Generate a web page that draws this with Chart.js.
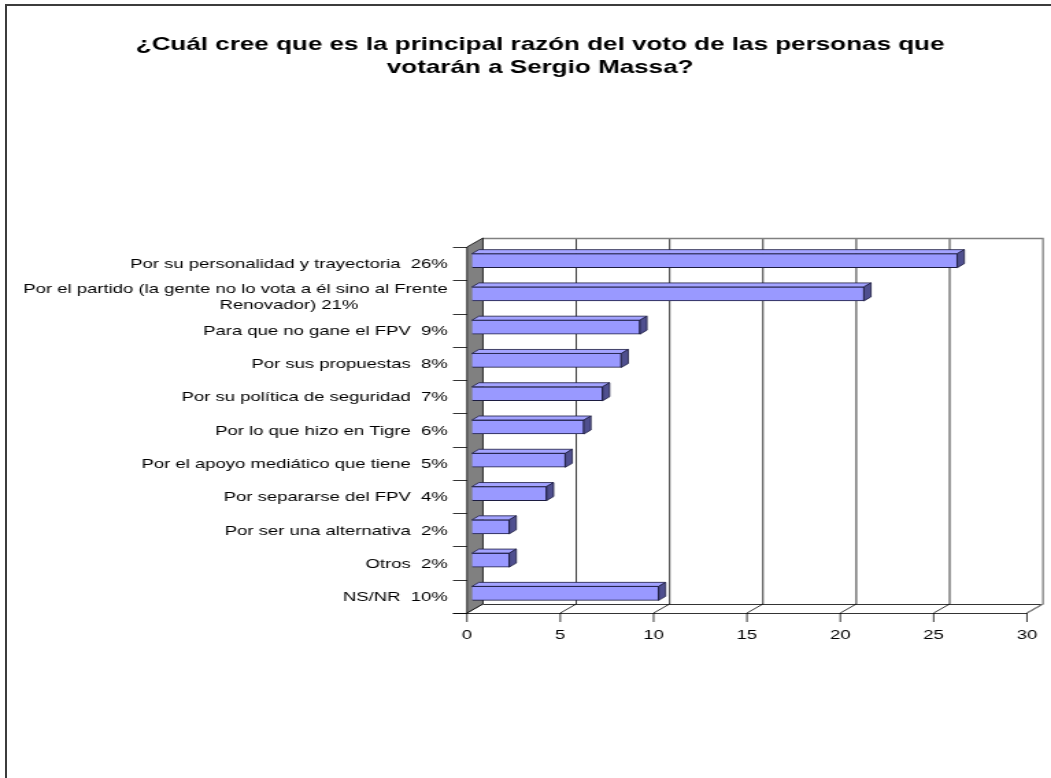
<!DOCTYPE html>
<html>
<head>
<meta charset="utf-8">
<script src="https://cdn.jsdelivr.net/npm/chart.js@4.4.1/dist/chart.umd.min.js"></script>
<style>
  html, body { margin: 0; padding: 0; background: #fff; overflow: hidden; }
  #frame { position: absolute; left: 5px; top: 4px; width: 2000px; height: 2000px;
           border-top: 2px solid #3c3c3c; border-left: 2px solid #3c3c3c; }
  /* the original picture is stretched sideways, so the whole chart is too */
  #wrap { position: absolute; left: 0; top: 0; width: 767px; height: 778px;
          transform: scaleX(1.3703); transform-origin: 0 0; }
</style>
</head>
<body>
<div id="frame"></div>
<div id="wrap"><canvas id="razonChart"></canvas></div>
<script>
// Data
var tituloLineas = ["¿Cuál cree que es la principal razón del voto de las personas que", "votarán a Sergio Massa?"];
var categorias = [
  "Por su personalidad y trayectoria  26%",
  ["Por el partido (la gente no lo vota a él sino al Frente", "Renovador) 21%"],
  "Para que no gane el FPV  9%",
  "Por sus propuestas  8%",
  "Por su política de seguridad  7%",
  "Por lo que hizo en Tigre  6%",
  "Por el apoyo mediático que tiene  5%",
  "Por separarse del FPV  4%",
  "Por ser una alternativa  2%",
  "Otros  2%",
  "NS/NR  10%"
];
var porcentajes = [26, 21, 9, 8, 7, 6, 5, 4, 2, 2, 10];
var ticksX = [0, 5, 10, 15, 20, 25, 30];

// 3D look: offsets of the front and back planes from the bar plane
var FRONT_DX = -3.65, FRONT_DY = 3;
var BACK_DX = 8.03, BACK_DY = -6;
var BAR_DX = 5.1, BAR_DY = -4;
var FONT = "'Liberation Sans', Arial, sans-serif";

var marco3d = {
  id: "marco3d",
  beforeDatasetsDraw: function (chart) {
    var ctx = chart.ctx, xs = chart.scales.x, ys = chart.scales.y;
    var top = ys.top, bottom = ys.bottom;
    var fx0 = xs.getPixelForValue(0) + FRONT_DX;
    var fx30 = xs.getPixelForValue(30) + FRONT_DX;
    var bx0 = xs.getPixelForValue(0) + BACK_DX;
    var bx30 = xs.getPixelForValue(30) + BACK_DX;
    var bTop = top + BACK_DY, bBot = bottom + BACK_DY;
    var fTop = top + FRONT_DY, fBot = bottom + FRONT_DY;
    ctx.save();

    // back wall grid lines
    ctx.strokeStyle = "#000";
    ctx.lineWidth = 0.8;
    ticksX.forEach(function (v) {
      if (v === 0 || v === 30) return;
      var bx = xs.getPixelForValue(v) + BACK_DX;
      ctx.beginPath();
      ctx.moveTo(bx, bTop);
      ctx.lineTo(bx, bBot);
      ctx.stroke();
    });

    // floor lines
    ticksX.forEach(function (v) {
      var px = xs.getPixelForValue(v);
      ctx.beginPath();
      ctx.moveTo(px + BACK_DX, bBot);
      ctx.lineTo(px + FRONT_DX, fBot);
      ctx.stroke();
    });
    ctx.beginPath();
    ctx.moveTo(bx0, bBot + 0.5);
    ctx.lineTo(bx30, bBot + 0.5);
    ctx.stroke();
    ctx.beginPath();
    ctx.moveTo(fx0 - 10.2, fBot + 0.5);
    ctx.lineTo(fx30, fBot + 0.5);
    ctx.stroke();

    // outer edges of the back wall
    ctx.strokeStyle = "#808080";
    ctx.lineWidth = 1.3;
    ctx.beginPath();
    ctx.moveTo(bx0, bTop + 0.5);
    ctx.lineTo(bx30, bTop + 0.5);
    ctx.lineTo(bx30, bBot);
    ctx.lineTo(fx30, fBot);
    ctx.stroke();

    // left wall
    ctx.fillStyle = "#808080";
    ctx.strokeStyle = "#000";
    ctx.lineWidth = 0.8;
    ctx.beginPath();
    ctx.moveTo(fx0, fTop);
    ctx.lineTo(bx0, bTop);
    ctx.lineTo(bx0, bBot);
    ctx.lineTo(fx0, fBot);
    ctx.closePath();
    ctx.fill();
    ctx.stroke();

    // category ticks
    var band = (bottom - top) / categorias.length;
    for (var i = 0; i <= categorias.length; i++) {
      var yy = Math.round(top + i * band + FRONT_DY) + 0.5;
      ctx.beginPath();
      ctx.moveTo(fx0 - 10.2, yy);
      ctx.lineTo(fx0, yy);
      ctx.stroke();
    }
    // value ticks
    ticksX.forEach(function (v) {
      var px = xs.getPixelForValue(v) + FRONT_DX;
      ctx.beginPath();
      ctx.moveTo(px, fBot);
      ctx.lineTo(px, fBot + 9);
      ctx.stroke();
    });
    ctx.restore();
  },
  afterDatasetsDraw: function (chart) {
    var ctx = chart.ctx, xs = chart.scales.x, ys = chart.scales.y;
    var meta = chart.getDatasetMeta(0);
    ctx.save();
    ctx.strokeStyle = "#1c1c40";
    ctx.lineWidth = 0.8;
    meta.data.forEach(function (bar) {
      var p = bar.getProps(["x", "y", "base", "height"], true);
      var x0 = p.base, x1 = p.x;
      var yT = p.y - p.height / 2, yB = p.y + p.height / 2;
      // top face
      ctx.fillStyle = "#a3a3ff";
      ctx.beginPath();
      ctx.moveTo(x0, yT);
      ctx.lineTo(x0 + BAR_DX, yT + BAR_DY);
      ctx.lineTo(x1 + BAR_DX, yT + BAR_DY);
      ctx.lineTo(x1, yT);
      ctx.closePath();
      ctx.fill();
      ctx.stroke();
      // side face
      ctx.fillStyle = "#4f4f8f";
      ctx.beginPath();
      ctx.moveTo(x1, yT);
      ctx.lineTo(x1 + BAR_DX, yT + BAR_DY);
      ctx.lineTo(x1 + BAR_DX, yB + BAR_DY);
      ctx.lineTo(x1, yB);
      ctx.closePath();
      ctx.fill();
      ctx.stroke();
    });

    // category labels
    ctx.fillStyle = "#000";
    ctx.font = "13.5px " + FONT;
    ctx.textBaseline = "middle";
    var right = xs.getPixelForValue(0) + FRONT_DX - 13.9;
    // wrapped labels sit in a box as wide as the widest one-line label
    var caja = 0;
    categorias.forEach(function (lab) {
      if (!Array.isArray(lab)) caja = Math.max(caja, ctx.measureText(lab).width);
    });
    categorias.forEach(function (lab, i) {
      var cy = ys.getPixelForValue(i) + FRONT_DY;
      if (Array.isArray(lab)) {
        lab.forEach(function (l, k) {
          var ly = cy + (k - (lab.length - 1) / 2) * 16.2;
          if (k === 0) {
            ctx.textAlign = "right";
            ctx.fillText(l, right, ly);
          } else {
            ctx.textAlign = "center";
            ctx.fillText(l, right - caja / 2, ly);
          }
        });
      } else {
        ctx.textAlign = "right";
        ctx.fillText(lab, right, cy + 1);
      }
    });

    // value labels
    ctx.textAlign = "center";
    ticksX.forEach(function (v) {
      ctx.fillText(String(v), xs.getPixelForValue(v) + FRONT_DX, ys.bottom + FRONT_DY + 22);
    });
    ctx.restore();
  }
};

var razonChart = new Chart(document.getElementById("razonChart").getContext("2d"), {
  type: "bar",
  data: {
    labels: categorias,
    datasets: [{
      data: porcentajes,
      backgroundColor: "#9999ff",
      borderColor: "#1c1c40",
      borderWidth: 1,
      barThickness: 14
    }]
  },
  options: {
    indexAxis: "y",
    responsive: true,
    maintainAspectRatio: false,
    animation: false,
    layout: { padding: { left: 35.2, right: 13.9, top: 0, bottom: 128 } },
    plugins: {
      legend: { display: false },
      tooltip: { enabled: false },
      title: {
        display: true,
        text: tituloLineas,
        color: "#000",
        font: { family: FONT, size: 19, weight: "bold", lineHeight: 23 / 19 },
        padding: { top: 33.5, bottom: 164.5 }
      }
    },
    scales: {
      x: {
        min: 0,
        max: 30,
        ticks: { display: false, stepSize: 5 },
        grid: { display: false },
        border: { display: false },
        afterFit: function (scale) { scale.height = 40; }
      },
      y: {
        ticks: { display: false },
        grid: { display: false },
        border: { display: false },
        afterFit: function (scale) { scale.width = 309.2; }
      }
    }
  },
  plugins: [marco3d]
});
</script>
</body>
</html>
